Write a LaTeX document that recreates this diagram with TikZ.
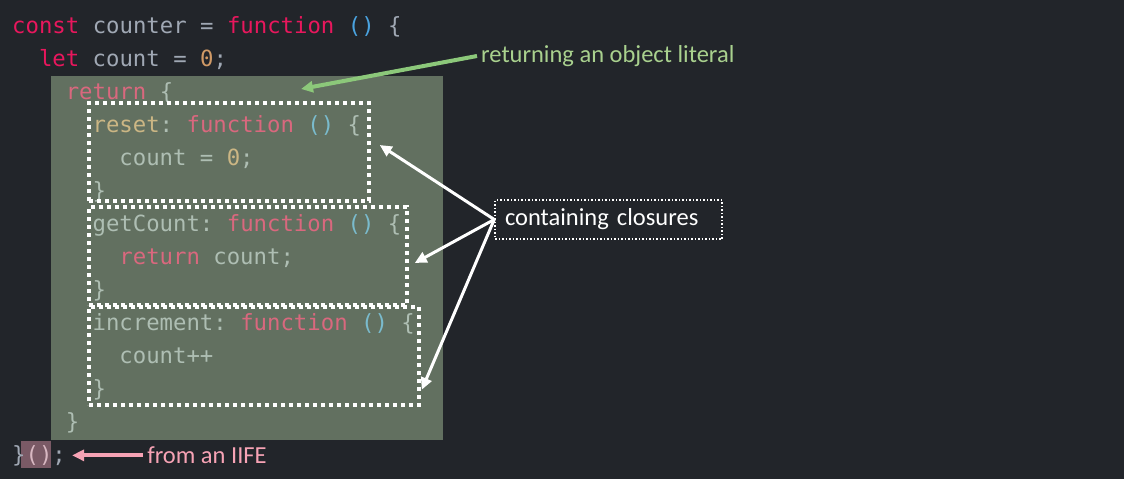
\documentclass[tikz,border=0pt]{standalone}
\usepackage{fontspec}
\setmonofont{DejaVu Sans Mono}
\newfontfamily\notefont{Carlito}
\usepackage{xcolor}
\usetikzlibrary{positioning, arrows.meta, calc}

\definecolor{bg}{HTML}{22252A}
\definecolor{boxgreen}{HTML}{627060}
\definecolor{hl}{RGB}{194,224,177}
\definecolor{ckw}{HTML}{E8175D}
\definecolor{cvr}{HTML}{A0A8B4}
\definecolor{cpn}{HTML}{4AA3E0}
\definecolor{cnm}{HTML}{D19A66}
\definecolor{callbg}{HTML}{7A5A66}
\definecolor{callpn}{HTML}{D8B8C2}
\definecolor{litgreen}{HTML}{A9D18E}
\definecolor{litarrow}{HTML}{8CC87A}
\definecolor{iifepink}{HTML}{F7A3B5}

\newcommand{\codefont}{\ttfamily\fontsize{22.3}{26}\selectfont}
\newcommand{\notesize}{\notefont\fontsize{24.5}{28}\selectfont}
\newcommand{\ckw}[1]{\textcolor{ckw}{#1}}
\newcommand{\cvr}[1]{\textcolor{cvr}{#1}}
\newcommand{\cpn}[1]{\textcolor{cpn}{#1}}
\newcommand{\cnm}[1]{\textcolor{cnm}{#1}}
\newcommand{\fadecode}{\colorlet{ckw}{ckw!60!hl}\colorlet{cvr}{cvr!60!hl}%
  \colorlet{cpn}{cpn!60!hl}\colorlet{cnm}{cnm!60!hl}}

\tikzset{
  codeline/.style={font=\codefont, inner sep=0pt, anchor=base west},
  faded/.style={codeline, font=\codefont\fadecode},
  closurebox/.style={draw=white, line width=3.5pt, dash pattern=on 4pt off 4pt},
  note/.style={font=\notesize, inner sep=4pt},
  tip/.style={-{Triangle[length=12pt, width=11pt]}}
}

\begin{document}
\begin{tikzpicture}[x=1pt, y=-1pt]
\fill[bg] (0,0) rectangle (1124,479);
\fill[boxgreen] (51,76) rectangle (443,440);
\fill[callbg] (21,441) rectangle (51,468);

\node[codeline] (l0) at (12,33) {\ckw{const} \cvr{counter =} \ckw{function} \cpn{()} \cvr{\{}};
\node[codeline] (l1) at (38.8,66) {\ckw{let} \cvr{count =} \cnm{0}\cvr{;}};
\node[faded] (l2) at (65.6,99) {\ckw{return} \cvr{\{}};
\node[faded] (l3) at (92.4,132) {\cnm{reset}\cvr{:} \ckw{function} \cpn{()} \cvr{\{}};
\node[faded] (l4) at (119.2,165) {\cvr{count =} \cnm{0}\cvr{;}};
\node[faded] (l5) at (92.4,198) {\cvr{\}}};
\node[faded] (l6) at (92.4,231) {\cvr{getCount:} \ckw{function} \cpn{()} \cvr{\{}};
\node[faded] (l7) at (119.2,264) {\ckw{return} \cvr{count;}};
\node[faded] (l8) at (92.4,297) {\cvr{\}}};
\node[faded] (l9) at (92.4,330) {\cvr{increment:} \ckw{function} \cpn{()} \cvr{\{}};
\node[faded] (l10) at (119.2,363) {\cvr{count++}};
\node[faded] (l11) at (92.4,396) {\cvr{\}}};
\node[faded] (l12) at (65.6,429) {\cvr{\}}};
\node[codeline] (l13) at (12,462) {\cvr{\}}\textcolor{callpn}{()}\cvr{;}};

\node[closurebox, minimum width=280pt, minimum height=98pt] (resetbox) at (229,152) {};
\node[closurebox, minimum width=318pt, minimum height=98pt] (getbox) at (248,256) {};
\node[closurebox, minimum width=330pt, minimum height=98pt] (incbox) at (254,356) {};

\node[note, draw=white, dotted, line width=1.5pt, text=white, inner xsep=10pt,
  text width=207pt, align=left, minimum height=39pt] (closures) at (608.5,219.5) {containing closures};
\node[note, text=litgreen, anchor=west] (objlit) at (477,56) {returning an object literal};
\node[note, text=iifepink, right=77pt of l13] (iife) {from an IIFE};
\coordinate (objtip) at (301,89);

\draw[tip, white, line width=3pt] (closures.west) -- ([xshift=9pt, yshift=7pt]resetbox.east);
\draw[tip, white, line width=3pt] (closures.west) -- ([xshift=6pt, yshift=-7pt]getbox.east);
\draw[tip, white, line width=3pt] (closures.west) -- ([xshift=1pt, yshift=17pt]incbox.south east);
\draw[tip, litarrow, line width=4pt] (objlit.west) -- (objtip);
\draw[tip, iifepink, line width=4pt] (iife.west) -- ([xshift=6pt]l13.east);
\end{tikzpicture}
\end{document}
